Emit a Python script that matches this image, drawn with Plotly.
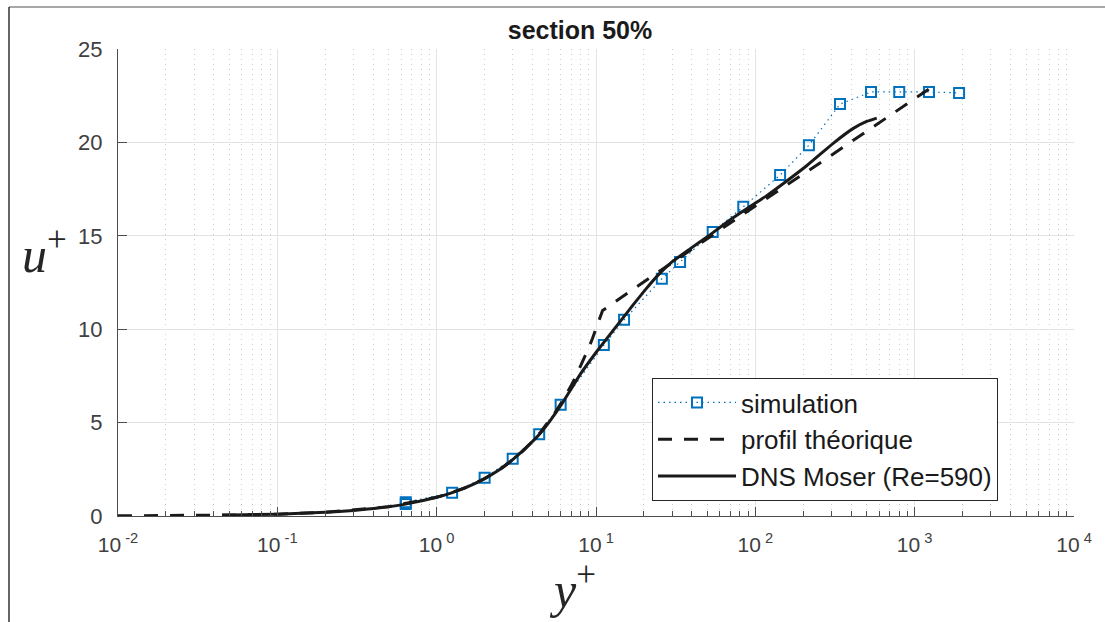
import plotly.graph_objects as go

# ---- data ----
sim_yplus = [0.64, 0.64, 1.25, 2.0, 3.0, 4.4, 6.0, 11.2, 15.0, 25.9, 33.7, 54.0, 84.0, 143, 217, 340, 532, 800, 1230, 1900]
sim_uplus = [0.64, 0.74, 1.25, 2.05, 3.07, 4.38, 5.95, 9.15, 10.5, 12.7, 13.6, 15.2, 16.55, 18.25, 19.85, 22.05, 22.7, 22.7, 22.7, 22.65]

theo_yplus = [0.01, 0.02, 0.05, 0.1, 0.2, 0.5, 1.0, 1.5, 2.0, 2.5, 3.0, 3.5, 4.0, 4.5, 5.0, 5.5, 6.0, 6.5, 7.0, 7.5, 8.0,
              8.5, 9.0, 9.5, 10.0, 10.5, 11.0, 18.6, 100, 278, 540, 1064, 1380]
theo_uplus = [0.01, 0.02, 0.05, 0.1, 0.2, 0.5, 1.0, 1.5, 2.0, 2.5, 3.0, 3.5, 4.0, 4.5, 5.0, 5.5, 6.0, 6.5, 7.0, 7.5, 8.0,
              8.5, 9.0, 9.5, 10.0, 10.5, 11.0, 12.35, 16.6, 19.12, 20.8, 22.5, 23.15]

dns_yplus = [0.045, 0.1, 0.2, 0.3, 0.44, 0.65, 1.0, 1.24, 1.6, 2.0, 2.5, 3.0, 3.6, 4.46, 5.2, 6.1, 7.0, 7.94, 10.06, 12.85,
             17.1, 20.8, 25.2, 30.0, 38.9, 50.0, 69.3, 100, 118, 150, 210, 308, 412, 500, 578]
dns_uplus = [0.045, 0.1, 0.2, 0.3, 0.44, 0.65, 1.0, 1.24, 1.6, 2.0, 2.5, 3.02, 3.62, 4.42, 5.15, 6.0, 6.82, 7.57, 8.78, 9.95,
             11.3, 12.2, 13.0, 13.6, 14.3, 14.95, 15.85, 16.75, 17.15, 17.8, 18.75, 19.95, 20.75, 21.12, 21.3]

x_tick_vals = [1e-2, 1e-1, 1e0, 1e1, 1e2, 1e3, 1e4]
x_tick_text = ["10<sup>\u00a0-2</sup>", "10<sup>\u00a0-1</sup>", "10<sup>\u00a00</sup>", "10<sup>\u00a01</sup>",
               "10<sup>\u00a02</sup>", "10<sup>\u00a03</sup>", "10<sup>\u00a04</sup>"]
y_tick_vals = [0, 5, 10, 15, 20, 25]

legend_names = ["simulation", "profil théorique", "DNS Moser (Re=590)"]
title_text = "section 50%"

BLUE = "#0072BD"
AXC = "#4d4d4d"

fig = go.Figure()
fig.add_trace(go.Scatter(
    x=sim_yplus, y=sim_uplus, name=legend_names[0], mode="lines+markers",
    line=dict(color=BLUE, width=1.2, dash="1.5px,4px"),
    marker=dict(symbol="square-open", size=10, color=BLUE, line=dict(width=2, color=BLUE)),
))
fig.add_trace(go.Scatter(
    x=theo_yplus, y=theo_uplus, name=legend_names[1], mode="lines",
    line=dict(color="#1a1a1a", width=3, dash="14px,12px"),
))
fig.add_trace(go.Scatter(
    x=dns_yplus, y=dns_uplus, name=legend_names[2], mode="lines",
    line=dict(color="#1a1a1a", width=3, shape="spline", smoothing=0.5),
))

minor_vals = [m * 10.0 ** e for e in range(-2, 4) for m in range(2, 10)]

fig.update_xaxes(
    type="log", range=[-2, 4],
    tickmode="array", tickvals=x_tick_vals, ticktext=x_tick_text,
    ticks="inside", ticklen=9, tickcolor=AXC, tickwidth=1,
    showline=True, linecolor=AXC, linewidth=1, mirror=False,
    showgrid=True, gridcolor="#e3e3e3", gridwidth=1,
    tickfont=dict(family="Liberation Sans, Arial", size=21, color="#404040"),
    ticklabelstandoff=10,
    minor=dict(tickmode="array", tickvals=minor_vals, ticks="inside", ticklen=5,
               tickcolor=AXC, showgrid=True, gridcolor="#cfcfcf", griddash="1px,4px", gridwidth=1),
    zeroline=False,
)
fig.update_yaxes(
    range=[0, 25], tickmode="array", tickvals=y_tick_vals,
    ticks="inside", ticklen=9, tickcolor=AXC, tickwidth=1,
    showline=True, linecolor=AXC, linewidth=1, mirror=False,
    showgrid=True, gridcolor="#e3e3e3", gridwidth=1,
    tickfont=dict(family="Liberation Sans, Arial", size=22, color="#404040"),
    ticklabelstandoff=10,
    zeroline=False,
)

W, H = 1105, 622
L, R, T, B = 118, 31, 49, 106
pw, ph = W - L - R, H - T - B


def px_x(p):
    return (p - L) / pw


def px_y(p):
    return (H - B - p) / ph


fig.update_layout(
    width=W, height=H, autosize=False,
    margin=dict(l=L, r=R, t=T, b=B, pad=0),
    paper_bgcolor="white", plot_bgcolor="white",
    title=dict(text="<b>" + title_text + "</b>", x=580 / W, xref="container", xanchor="center",
               y=1 - 30 / H, yref="container", yanchor="middle",
               font=dict(family="Liberation Sans, Arial", size=25, color="#1a1a1a")),
    legend=dict(x=px_x(652), y=px_y(378), xanchor="left", yanchor="top",
                bgcolor="white", bordercolor="#262626", borderwidth=1,
                font=dict(family="Liberation Sans, Arial", size=26, color="#1a1a1a"),
                itemwidth=78, tracegroupgap=0),
    showlegend=True,
    annotations=[
        dict(text="<i>u</i><sup>+</sup>", xref="paper", yref="paper", x=px_x(44), y=px_y(252),
             xanchor="center", yanchor="middle", showarrow=False,
             font=dict(family="Liberation Serif, Times New Roman", size=50, color="#262626")),
        dict(text="<i>y</i><sup>+</sup>", xref="paper", yref="paper", x=px_x(572), y=px_y(586),
             xanchor="center", yanchor="middle", showarrow=False,
             font=dict(family="Liberation Serif, Times New Roman", size=50, color="#262626")),
    ],
    shapes=[
        dict(type="line", xref="paper", yref="paper", x0=px_x(9), x1=px_x(W + 5), y0=px_y(7), y1=px_y(7),
             line=dict(color="#8a8a8a", width=1.5)),
        dict(type="line", xref="paper", yref="paper", x0=px_x(9), x1=px_x(9), y0=px_y(7), y1=px_y(H + 5),
             line=dict(color="#333333", width=1.5)),
    ],
)

fig.write_html("out.html")
